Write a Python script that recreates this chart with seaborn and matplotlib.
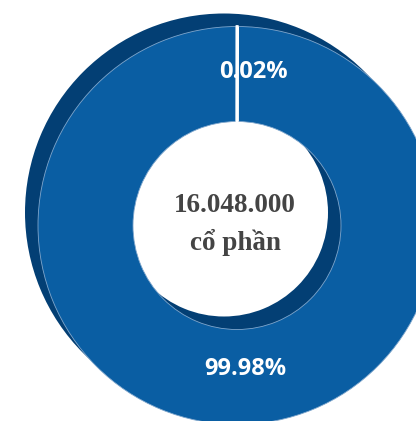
import matplotlib
matplotlib.use("Agg")
import matplotlib.pyplot as plt
import seaborn as sns

sns.set_theme(style="white")

# share structure
labels = ["Cổ đông khác", "Cổ đông chính"]
shares_pct = [0.02, 99.98]
pct_text = ["0.02%", "99.98%"]
total_text = "16.048.000\ncổ phần"

front_color = "#0a5ea3"
side_color = "#033f74"

W, H = 416, 421
fig = plt.figure(figsize=(W / 100, H / 100), dpi=100)
ax = fig.add_axes([0, 0, 1, 1])

r_out, r_in = 199, 104
cx, cy = 237, H - 225.5
depth = 13

# extruded side of the ring (drawn behind, shifted up-left)
side, _ = ax.pie([sum(shares_pct)], radius=r_out, center=(cx - depth, cy + depth),
                 colors=[side_color], startangle=90, counterclock=False,
                 wedgeprops=dict(width=r_out - r_in, linewidth=0))
for w in side:
    w.set_zorder(1)

# front face
wedges, _ = ax.pie(shares_pct, radius=r_out, center=(cx, cy),
                   colors=[front_color, front_color], startangle=90, counterclock=False,
                   wedgeprops=dict(width=r_out - r_in, linewidth=0.6, edgecolor="#7fa6cc"))
wedges[1].set_zorder(2)
wedges[0].set_edgecolor("white")
wedges[0].set_linewidth(2)
wedges[0].set_zorder(3)

# percentage labels
ax.text(cx + 16, cy + 154, pct_text[0], color="white", fontsize=17, fontweight="bold",
        family=["Open Sans", "DejaVu Sans"], ha="center", va="center", zorder=5)
ax.text(cx + 8, cy - 143.5, pct_text[1], color="white", fontsize=17, fontweight="bold",
        family=["Open Sans", "DejaVu Sans"], ha="center", va="center", zorder=5)

# centre total
ax.text(cx - 2, cy + 1, total_text, color="#444444", fontsize=19.5, fontweight="bold",
        family=["Liberation Serif", "DejaVu Serif"], ha="center", va="center",
        linespacing=1.5, zorder=5)

ax.set_xlim(0, W)
ax.set_ylim(0, H)
ax.set_aspect("equal")
ax.axis("off")

fig.savefig("out.png", dpi=100)
